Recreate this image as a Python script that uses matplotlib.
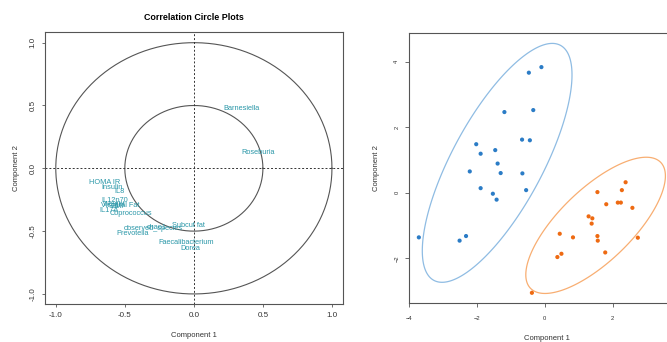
import numpy as np
import matplotlib
matplotlib.use("Agg")
import matplotlib.pyplot as plt
from matplotlib.patches import Polygon

plt.rcParams['font.family'] = ['Liberation Sans', 'DejaVu Sans']

# ---- Correlation circle data ----
var_names = ["Barnesiella", "Roseburia", "HOMA IR", "Insulin", "IL8", "IL12p70",
             "Visceral Fat", "Weight", "BMI", "IL17A", "Coprococcus",
             "observed_species", "chao1", "Prevotella", "Subcut fat",
             "Faecalibacterium", "Dorea"]
var_x = [0.347, 0.465, -0.648, -0.59, -0.54, -0.571, -0.535, -0.575, -0.555, -0.614,
         -0.458, -0.296, -0.27, -0.443, -0.036, -0.053, -0.029]
var_y = [0.477, 0.125, -0.114, -0.154, -0.188, -0.26, -0.297, -0.29, -0.305, -0.337,
         -0.363, -0.477, -0.472, -0.517, -0.456, -0.592, -0.637]
circle_radii = [1.0, 0.5]
ticks_circle = [-1.0, -0.5, 0.0, 0.5, 1.0]

# ---- Individuals data ----
g1_x = [-3.71, -2.51, -2.32, -2.21, -2.02, -1.89, -1.89, -1.53, -1.46, -1.42,
        -1.39, -1.30, -1.19, -0.67, -0.66, -0.55, -0.47, -0.44, -0.34, -0.10]
g1_y = [-1.36, -1.46, -1.32, 0.65, 1.48, 1.19, 0.14, -0.03, 1.30, -0.21,
        0.89, 0.60, 2.46, 1.62, 0.59, 0.08, 3.66, 1.60, 2.52, 3.83]
g2_x = [-0.38, 0.37, 0.49, 0.44, 0.83, 1.29, 1.40, 1.38, 1.55, 1.55,
        1.56, 1.78, 1.81, 2.15, 2.24, 2.27, 2.38, 2.58, 2.74]
g2_y = [-3.05, -1.96, -1.86, -1.25, -1.36, -0.72, -0.78, -0.94, 0.02, -1.32,
        -1.46, -1.82, -0.35, -0.30, -0.30, 0.08, 0.32, -0.46, -1.37]
ticks_ind_x = [-4, -2, 0, 2]
ticks_ind_y = [-2, 0, 2, 4]

col_blue = "#2B7CC6"
col_orange = "#EE6A12"
col_blue_ell = "#8FBCE3"
col_orange_ell = "#F8AE72"
col_text = "#2A97A8"
frame_col = "#555555"

fig = plt.figure(figsize=(6.67, 3.42), dpi=100)

def style_axes(ax, fs, tl, pad):
    for s in ax.spines.values():
        s.set_color(frame_col)
        s.set_linewidth(0.8)
    ax.tick_params(direction='out', length=tl, width=0.6, colors=frame_col,
                   labelsize=fs, labelcolor="#333333", pad=pad)
    for lab in ax.get_yticklabels():
        lab.set_rotation(90)
        lab.set_va('center')

# ---- Left panel ----
ax1 = fig.add_axes([45/667, 38/342, 298/667, 272/342])
th = np.linspace(0, 2*np.pi, 400)
for r in circle_radii:
    ax1.plot(r*np.cos(th), r*np.sin(th), color="#555555", lw=0.8)
ax1.axhline(0, color="#333333", lw=0.7, ls=(0, (2, 2)))
ax1.axvline(0, color="#333333", lw=0.7, ls=(0, (2, 2)))
for n, x, y in zip(var_names, var_x, var_y):
    ax1.text(x, y, n, color=col_text, fontsize=5.3, ha='center', va='center')
ax1.set_xlim(-1.078, 1.08)
ax1.set_ylim(-1.08, 1.085)
ax1.set_xticks(ticks_circle)
ax1.set_yticks(ticks_circle)
ax1.set_xticklabels([f"{t:.1f}" for t in ticks_circle])
ax1.set_yticklabels([f"{t:.1f}" for t in ticks_circle])
style_axes(ax1, 5.8, 2.5, 3.5)
ax1.set_xlabel("Component 1", fontsize=5.5, color="#333333", labelpad=9)
ax1.set_ylabel("Component 2", fontsize=5.5, color="#333333", labelpad=7)
ax1.set_title("Correlation Circle Plots", fontsize=6.4, fontweight='bold', pad=9)

# ---- Right panel ----
ax2 = fig.add_axes([409/667, 38.7/342, 275/667, 270.3/342])

def conf_ellipse(x, y, level_sq=5.991464547):
    x = np.asarray(x); y = np.asarray(y)
    cov = np.cov(x, y)
    L = np.linalg.cholesky(cov)
    t = np.linspace(0, 2*np.pi, 300, endpoint=False)
    pts = np.sqrt(level_sq) * (L @ np.vstack([np.cos(t), np.sin(t)]))
    return np.column_stack([x.mean() + pts[0], y.mean() + pts[1]])

ax2.add_patch(Polygon(conf_ellipse(g1_x, g1_y), closed=True, fill=False,
                      edgecolor=col_blue_ell, lw=0.9))
ax2.add_patch(Polygon(conf_ellipse(g2_x, g2_y), closed=True, fill=False,
                      edgecolor=col_orange_ell, lw=0.9))
ax2.scatter(g1_x, g1_y, s=9, color=col_blue, edgecolors='none', zorder=3)
ax2.scatter(g2_x, g2_y, s=9, color=col_orange, edgecolors='none', zorder=3)
ax2.set_xlim(-4, 4.1)
ax2.set_ylim(-3.37, 4.87)
ax2.set_xticks(ticks_ind_x)
ax2.set_yticks(ticks_ind_y)
style_axes(ax2, 4.2, 3.0, 6.5)
ax2.tick_params(axis='y', pad=4)
ax2.set_xlabel("Component 1", fontsize=5.5, color="#333333", labelpad=10)
ax2.set_ylabel("Component 2", fontsize=5.5, color="#333333", labelpad=10)

fig.savefig("out.png", dpi=100)
